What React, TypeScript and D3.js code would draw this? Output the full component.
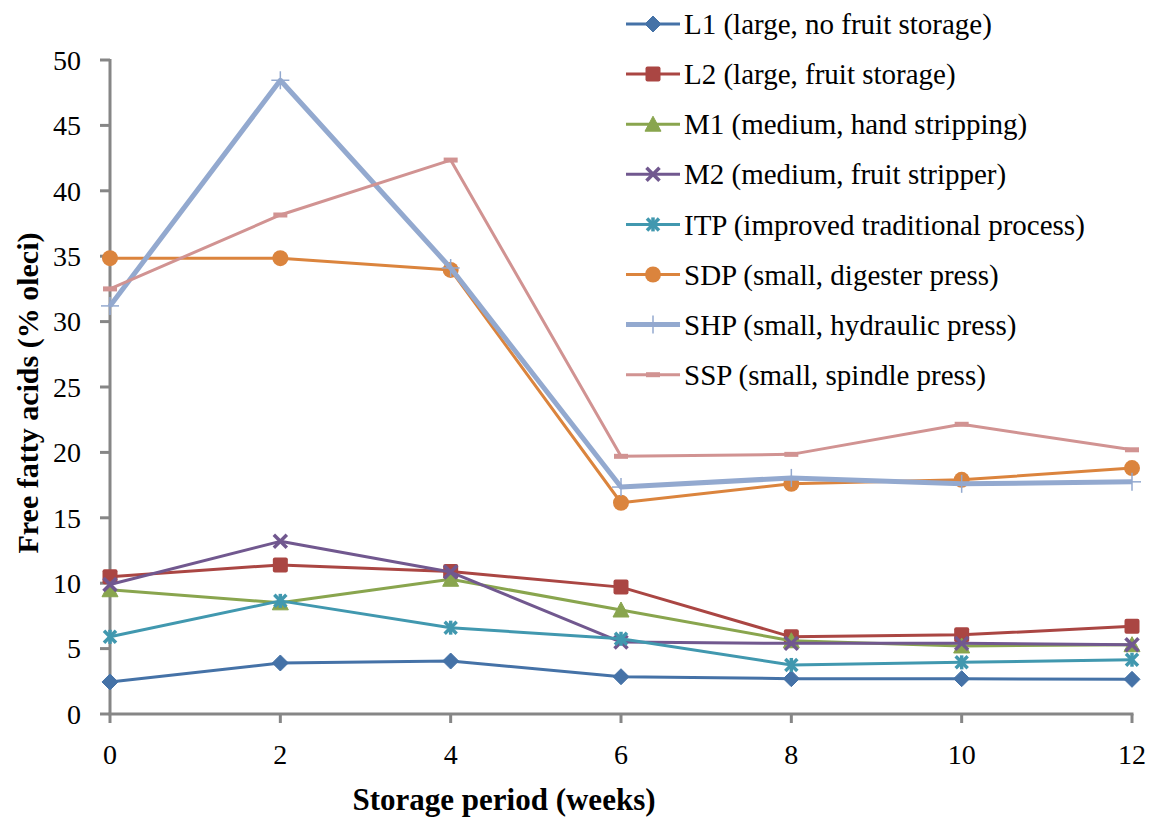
import React from "react";
import * as d3 from "d3";

const weeks = [0, 2, 4, 6, 8, 10, 12];
const yTicks = [0, 5, 10, 15, 20, 25, 30, 35, 40, 45, 50];

const L1 = [2.45, 3.9, 4.05, 2.85, 2.7, 2.7, 2.65];
const L2 = [10.5, 11.4, 10.9, 9.7, 5.9, 6.05, 6.7];
const M1 = [9.5, 8.5, 10.3, 7.95, 5.6, 5.2, 5.3];
const M2 = [9.9, 13.2, 10.85, 5.5, 5.4, 5.4, 5.3];
const ITP = [5.9, 8.65, 6.6, 5.75, 3.75, 3.95, 4.15];
const SDP = [34.85, 34.85, 33.95, 16.15, 17.6, 17.9, 18.8];
const SHP = [31.2, 48.45, 34.1, 17.35, 18.05, 17.6, 17.75];
const SSP = [32.5, 38.15, 42.35, 19.7, 19.85, 22.15, 20.2];

const seriesNames = [
  "L1 (large, no fruit storage)",
  "L2 (large, fruit storage)",
  "M1 (medium, hand stripping)",
  "M2 (medium, fruit stripper)",
  "ITP (improved traditional process)",
  "SDP (small, digester press)",
  "SHP (small, hydraulic press)",
  "SSP (small, spindle press)",
];
const seriesValues = [L1, L2, M1, M2, ITP, SDP, SHP, SSP];
const colors = ["#4572A7", "#AA4643", "#89A54E", "#71588F", "#4198AF", "#DB843D", "#93A9CF", "#D19392"];
const markers = ["diamond", "square", "triangle", "x", "star", "circle", "plus", "dash"];
const widths = [3, 3, 3, 3, 3, 3, 5, 3];

const W = 1158;
const H = 818;
const x = d3.scaleLinear().domain([0, 12]).range([110, 1132]);
const y = d3.scaleLinear().domain([0, 50]).range([714, 60]);
const FONT = "'Liberation Serif', 'Times New Roman', Times, serif";
const AXIS = "#868686";
const tStyle = { fontFamily: FONT };

function Marker({ type, cx, cy, color }: { type: string; cx: number; cy: number; color: string }) {
  switch (type) {
    case "diamond":
      return <path d={`M${cx},${cy - 8}L${cx + 8},${cy}L${cx},${cy + 8}L${cx - 8},${cy}Z`} fill={color} stroke={color} strokeWidth={1} strokeLinejoin="round" />;
    case "square":
      return <rect x={cx - 7.5} y={cy - 7.5} width={15} height={15} rx={2} fill={color} />;
    case "triangle":
      return <path d={`M${cx},${cy - 8}L${cx + 8},${cy + 7}L${cx - 8},${cy + 7}Z`} fill={color} stroke={color} strokeWidth={1} strokeLinejoin="round" />;
    case "x":
      return (
        <g stroke={color} strokeWidth={3.5}>
          <line x1={cx - 6.5} y1={cy - 6.5} x2={cx + 6.5} y2={cy + 6.5} />
          <line x1={cx - 6.5} y1={cy + 6.5} x2={cx + 6.5} y2={cy - 6.5} />
        </g>
      );
    case "star":
      return (
        <g stroke={color} strokeWidth={3.5}>
          <line x1={cx - 6} y1={cy - 6} x2={cx + 6} y2={cy + 6} />
          <line x1={cx - 6} y1={cy + 6} x2={cx + 6} y2={cy - 6} />
          <line x1={cx} y1={cy - 7} x2={cx} y2={cy + 7} />
        </g>
      );
    case "circle":
      return <circle cx={cx} cy={cy} r={8} fill={color} />;
    case "plus":
      return (
        <g stroke={color} strokeWidth={1.5}>
          <line x1={cx - 9} y1={cy} x2={cx + 9} y2={cy} />
          <line x1={cx} y1={cy - 9} x2={cx} y2={cy + 9} />
        </g>
      );
    case "dash":
      return <line x1={cx - 7} y1={cy} x2={cx + 7} y2={cy} stroke={color} strokeWidth={5} />;
    default:
      return null;
  }
}

export default function App() {
  const line = d3
    .line<number>()
    .x((_, i) => x(weeks[i]))
    .y((v) => y(v));

  const legendRows = seriesNames.map((_, i) => 24 + i * 50.1);

  return (
    <svg width={W} height={H} style={{ position: "absolute", left: 0, top: 0, background: "#fff" }}>
      {/* axes */}
      <line x1={x(0)} y1={y(50) - 1} x2={x(0)} y2={y(0)} stroke={AXIS} strokeWidth={3} />
      <line x1={x(0) - 1.5} y1={y(0)} x2={x(12) + 1.5} y2={y(0)} stroke={AXIS} strokeWidth={3} />
      {yTicks.map((t) => (
        <g key={"yt" + t}>
          <line x1={x(0) - 10} x2={x(0)} y1={y(t)} y2={y(t)} stroke={AXIS} strokeWidth={3} />
          <text x={81} y={y(t)} dy="0.35em" textAnchor="end" fontSize={28} fill="#000" style={tStyle}>
            {t}
          </text>
        </g>
      ))}
      {weeks.map((t) => (
        <g key={"xt" + t}>
          <line x1={x(t)} x2={x(t)} y1={y(0)} y2={y(0) + 9} stroke={AXIS} strokeWidth={3} />
          <text x={x(t)} y={754} dy="0.35em" textAnchor="middle" fontSize={28} fill="#000" style={tStyle}>
            {t}
          </text>
        </g>
      ))}
      <text x={504} y={810} textAnchor="middle" fontSize={31} fontWeight="bold" fill="#000" style={tStyle}>
        Storage period (weeks)
      </text>
      <text
        transform={`translate(38, 393) rotate(-90)`}
        textAnchor="middle"
        fontSize={30}
        fontWeight="bold"
        fill="#000"
        style={tStyle}
      >
        Free fatty acids (% oleci)
      </text>

      {/* series */}
      {seriesValues.map((vals, si) => (
        <g key={"s" + si}>
          <path d={line(vals) || ""} fill="none" stroke={colors[si]} strokeWidth={widths[si]} strokeLinejoin="round" />
          {vals.map((v, i) => (
            <Marker key={i} type={markers[si]} cx={x(weeks[i])} cy={y(v)} color={colors[si]} />
          ))}
        </g>
      ))}

      {/* legend */}
      {seriesNames.map((name, i) => (
        <g key={"lg" + i}>
          <line x1={626} x2={680} y1={legendRows[i]} y2={legendRows[i]} stroke={colors[i]} strokeWidth={widths[i]} />
          <Marker type={markers[i]} cx={653} cy={legendRows[i]} color={colors[i]} />
          <text x={684} y={legendRows[i]} dy="0.35em" fontSize={29} fill="#000" style={tStyle}>
            {name}
          </text>
        </g>
      ))}
    </svg>
  );
}
